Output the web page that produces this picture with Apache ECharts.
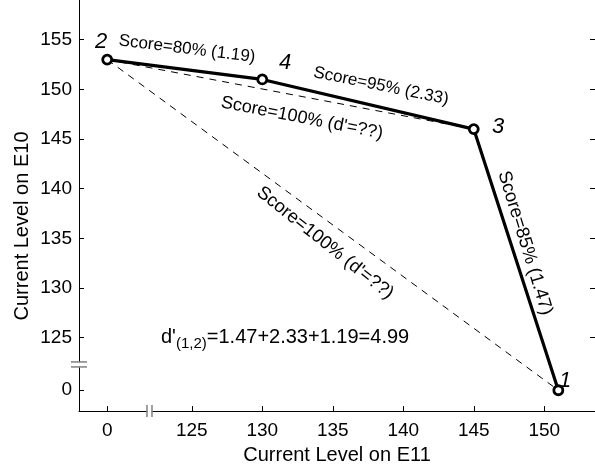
<!DOCTYPE html>
<html><head><meta charset="utf-8">
<script src="https://cdn.jsdelivr.net/npm/echarts@6/dist/echarts.min.js"></script>
<style>html,body{margin:0;padding:0;background:#fff}#c{width:595px;height:470px}</style>
</head><body><div id="c"></div>
<script>
// ---- data ----
const pointNames = ['2', '4', '3', '1'];
const e11Levels = [0, 130, 145, 151];
const e10Levels = [153, 151, 146, 0];
const xTickValues = [0, 125, 130, 135, 140, 145, 150];
const yTickValues = [0, 125, 130, 135, 140, 145, 150, 155];
const dashedFrom = ['2', '2'];
const dashedTo = ['3', '1'];
const xAxisTitle = 'Current Level on E11';
const yAxisTitle = 'Current Level on E10';

// broken axes: the value 0 is drawn just below the break
const X_ZERO = 119, X_BREAK = 122, X_MIN = 117, X_MAX = 153.6;
const Y_ZERO = 119.7, Y_BREAK = 122.3, Y_MIN = 117.6, Y_MAX = 159;
const toX = v => (v === 0 ? X_ZERO : v);
const toY = v => (v === 0 ? Y_ZERO : v);

const FONT = 'Liberation Sans';
const pt = n => {
  const i = pointNames.indexOf(n);
  return [toX(e11Levels[i]), toY(e10Levels[i])];
};

const chart = echarts.init(document.getElementById('c'), null, {renderer: 'canvas'});

const axisCommon = {
  type: 'value', scale: true,
  splitLine: {show: false},
  axisLine: {show: true, onZero: false, lineStyle: {color: '#000', width: 1}},
  axisTick: {show: true, inside: true, length: 5, lineStyle: {color: '#000'}},
  axisLabel: {color: '#000', fontFamily: FONT, fontSize: 19},
  nameTextStyle: {color: '#000', fontFamily: FONT, fontSize: 20},
  nameLocation: 'middle'
};

const xCustom = xTickValues.map(toX);
const yCustom = yTickValues.map(toY);

const option = {
  animation: false,
  backgroundColor: '#fff',
  grid: {left: 79, right: 0, top: 0, bottom: 47, containLabel: false},
  xAxis: [Object.assign({}, axisCommon, {
    min: X_MIN, max: X_MAX, name: xAxisTitle, nameGap: 28,
    axisTick: Object.assign({}, axisCommon.axisTick, {customValues: xCustom}),
    axisLabel: Object.assign({}, axisCommon.axisLabel, {customValues: xCustom, margin: 10,
      formatter: v => (Math.abs(v - X_ZERO) < 1e-6 ? '0' : String(v))})
  })],
  yAxis: [Object.assign({}, axisCommon, {
    min: Y_MIN, max: Y_MAX, name: '',
    axisTick: Object.assign({}, axisCommon.axisTick, {customValues: yCustom}),
    axisLabel: Object.assign({}, axisCommon.axisLabel, {customValues: yCustom, margin: 7,
      formatter: v => (Math.abs(v - Y_ZERO) < 1e-6 ? '0' : String(v))})
  }), Object.assign({}, axisCommon, {
    min: Y_MIN, max: Y_MAX, position: 'right', name: '',
    axisLine: {show: false},
    axisLabel: {show: false},
    axisTick: Object.assign({}, axisCommon.axisTick, {customValues: yCustom.slice(1)})
  })],
  series: [
    ...dashedFrom.map((f, i) => ({
      type: 'line', silent: true, symbol: 'none', z: 2,
      data: [pt(f), pt(dashedTo[i])],
      lineStyle: {color: '#000', width: 1, type: [7, 6]}
    })),
    {
      type: 'line', z: 3, symbol: 'circle', symbolSize: 9,
      data: pointNames.map(pt),
      lineStyle: {color: '#000', width: 3.2},
      itemStyle: {color: '#fff', borderColor: '#000', borderWidth: 2.8}
    },
    {
      type: 'custom', z: 5, clip: false, silent: true,
      data: [[X_BREAK, Y_MIN, 0], [X_MIN, Y_BREAK, 1]],
      renderItem: (params, api) => {
        const p = api.coord([api.value(0), api.value(1)]);
        const vert = api.value(2) === 0;
        const gs = {stroke: '#888', lineWidth: 1.6};
        if (vert) {
          return {type: 'group', children: [
            {type: 'rect', shape: {x: p[0] - 2, y: p[1] - 2, width: 4, height: 4}, style: {fill: '#fff'}},
            {type: 'line', shape: {x1: p[0] - 2.5, y1: p[1] - 6, x2: p[0] - 2.5, y2: p[1] + 6}, style: gs},
            {type: 'line', shape: {x1: p[0] + 2.5, y1: p[1] - 6, x2: p[0] + 2.5, y2: p[1] + 6}, style: gs}
          ]};
        }
        return {type: 'group', children: [
          {type: 'rect', shape: {x: p[0] - 2, y: p[1] - 2, width: 4, height: 4}, style: {fill: '#fff'}},
          {type: 'line', shape: {x1: p[0] - 8, y1: p[1] - 2.5, x2: p[0] + 8, y2: p[1] - 2.5}, style: gs},
          {type: 'line', shape: {x1: p[0] - 8, y1: p[1] + 2.5, x2: p[0] + 8, y2: p[1] + 2.5}, style: gs}
        ]};
      }
    }
  ]
};
chart.setOption(option);

// ---- annotations ----
function txt(text, x, y, deg, size, italic, align, rich) {
  return {
    type: 'text', x: x, y: y, rotation: -deg * Math.PI / 180, z: 10,
    style: {text: text, fill: '#000', fontFamily: FONT, fontSize: size,
      fontStyle: italic ? 'italic' : 'normal', align: align || 'center', verticalAlign: 'middle', rich: rich}
  };
}
chart.setOption({graphic: [
  txt(yAxisTitle, 22, 226, -90, 20),
  txt('2', 101, 42, 0, 22, true),
  txt('4', 285, 63, 0, 22, true),
  txt('3', 498, 127, 0, 22, true),
  txt('1', 565, 381, 0, 22, true),
  txt('Score=80% (1.19)', 187, 49, 7, 17),
  txt('Score=95% (2.33)', 381, 86, 11.5, 17),
  txt("Score=100% (d'=??)", 302, 118, 11, 18),
  txt("Score=100% (d'=??)", 325, 243, 38.5, 18.5),
  txt('Score=85% (1.47)', 525, 243, 73, 18.5),
  txt("d'{s|(1,2)}=1.47+2.33+1.19=4.99", 161, 337, 0, 20, false, 'left',
      {s: {fontSize: 15, fontFamily: FONT, padding: [14, 0, 0, 0]}})
]});
</script>
</body></html>
